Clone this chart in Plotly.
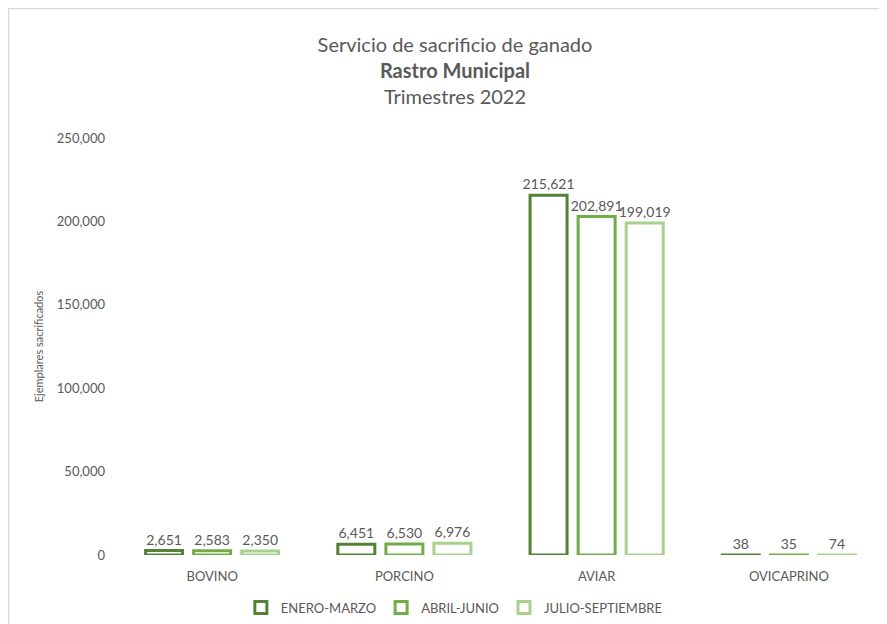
import plotly.graph_objects as go

categories = ["BOVINO", "PORCINO", "AVIAR", "OVICAPRINO"]
series_names = ["ENERO-MARZO", "ABRIL-JUNIO", "JULIO-SEPTIEMBRE"]
enero_marzo = [2651, 6451, 215621, 38]
abril_junio = [2583, 6530, 202891, 35]
julio_septiembre = [2350, 6976, 199019, 74]
y_ticks = [0, 50000, 100000, 150000, 200000, 250000]

colors = ["#548235", "#70AD47", "#A9D18E"]
values = [enero_marzo, abril_junio, julio_septiembre]

font_family = "Lato, 'Open Sans', sans-serif"
gray = "#595959"

fig = go.Figure()
for name, vals, col in zip(series_names, values, colors):
    fig.add_trace(go.Bar(
        x=categories, y=vals, name=name,
        marker=dict(color="white", line=dict(color=col, width=3)),
        text=[f"{v:,}" for v in vals],
        textposition="outside",
        constraintext="none",
        textfont=dict(color=gray, size=14, family=font_family),
        cliponaxis=False,
    ))

# page body has an 8px margin, so the figure is offset by 8px
OFF = 8
W, H = 887 - OFF, 624 - OFF
L, R = 116 - OFF, 2
T, B = 138 - OFF, H - (555 - OFF)
pw, ph = W - L - R, H - T - B

fig.update_layout(
    width=W, height=H,
    margin=dict(l=L, r=R, t=T, b=B, autoexpand=False),
    paper_bgcolor="white", plot_bgcolor="white",
    barmode="group", bargap=0.25, bargroupgap=0.23,
    font=dict(family=font_family, color=gray),
    title=dict(
        text="Servicio de sacrificio de ganado<br><b>Rastro Municipal</b><br>Trimestres 2022",
        x=(455 - OFF) / W, xanchor="center", y=1 - 44 / H, yanchor="top",
        font=dict(size=20, color=gray, family=font_family),
    ),
    xaxis=dict(showgrid=False, showline=False, zeroline=False, ticks="",
               automargin=False, ticklabelstandoff=12,
               tickfont=dict(size=13, color=gray)),
    yaxis=dict(range=[0, 250000], tickvals=y_ticks, tickformat=",",
               showgrid=False, zeroline=False, showline=False, automargin=False,
               tickfont=dict(size=13, color=gray), ticklabelstandoff=10,
               title=dict(text="Ejemplares sacrificados", font=dict(size=11, color=gray), standoff=10)),
    legend=dict(orientation="h", x=0.44, xanchor="center", y=-0.09, yanchor="top",
                font=dict(size=13, color=gray), itemwidth=30, traceorder="normal"),
    showlegend=True,
    shapes=[dict(type="rect", xref="paper", yref="paper",
                 x0=(0.5 - L) / pw, x1=(878 - L) / pw,
                 y0=(H - T - H - 20) / ph, y1=(H - B - 0.5) / ph,
                 line=dict(color="#d9d9d9", width=1.5), fillcolor="rgba(0,0,0,0)", layer="below")],
)

fig.write_html("out.html")
